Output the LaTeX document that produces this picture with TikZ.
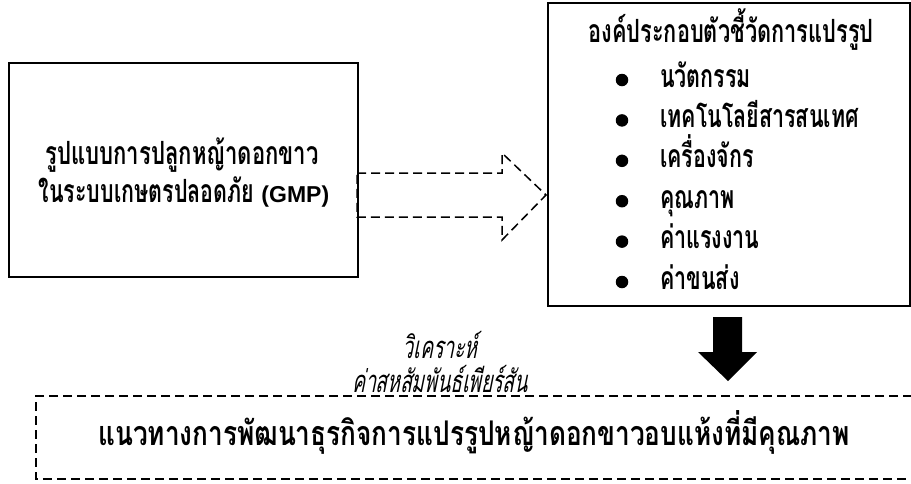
\documentclass[tikz,border=0pt]{standalone}
\usepackage{fontspec}
\usetikzlibrary{calc}
\newfontfamily\thaiL[Script=Thai,FakeStretch=0.69]{Loma}
\newfontfamily\thaiLL[Script=Thai,FakeStretch=0.67]{Loma}
\newfontfamily\thaiT[Script=Thai,FakeStretch=0.68]{Loma}
\newfontfamily\thaiI[Script=Thai,FakeStretch=0.67]{Loma}
\newfontfamily\thaiB[Script=Thai,FakeStretch=0.77]{Loma}
\newfontfamily\thaiit[Script=Thai,FakeStretch=0.62,FakeSlant=0.2]{Loma}
\newfontfamily\arialf{Liberation Sans}
\tikzset{
  box/.style={draw,line width=1.6pt},
  dbox/.style={draw,line width=1.5pt,dash pattern=on 9pt off 5pt},
  ltxt/.style={inner sep=0pt,anchor=base,font=\thaiL\bfseries\fontsize{32}{36}\selectfont},
  ttxt/.style={inner sep=0pt,anchor=base,font=\thaiT\bfseries\fontsize{32}{36}\selectfont},
  itemtxt/.style={inner sep=0pt,anchor=base west,font=\thaiI\bfseries\fontsize{32}{36}\selectfont},
  btxt/.style={inner sep=0pt,anchor=base,font=\thaiB\bfseries\fontsize{34}{38}\selectfont},
  itxt/.style={inner sep=0pt,anchor=base,font=\thaiit\fontsize{31}{34}\selectfont},
  bul/.style={circle,fill=black,inner sep=0pt,minimum size=12.5pt},
}
\begin{document}
\begin{tikzpicture}[x=1pt,y=-1pt]
\useasboundingbox (0,0) rectangle (911,483);
% left box
\node[box,minimum width=349pt,minimum height=214pt,anchor=north west] (left) at (8,62) {};
\node[ltxt] (l1) at (182,164) {รูปแบบการปลูกหญ้าดอกขาว};
\node[ltxt] (l2) at (184,202) {\thaiLL ในระบบเกษตรปลอดภัย {\arialf\bfseries\fontsize{23}{26}\selectfont (GMP)}};
% right box
\node[box,minimum width=362pt,minimum height=303pt,anchor=north west] (right) at (547,2) {};
\node[ttxt] (title) at (731,42) {องค์ประกอบตัวชี้วัดการแปรรูป};
\foreach \i/\t in {0/นวัตกรรม,1/เทคโนโลยีสารสนเทศ,2/เครื่องจักร,3/คุณภาพ,4/ค่าแรงงาน,5/ค่าขนส่ง}{
  \node[bul] (b\i) at (622,{80+40.4*\i}) {};
  \node[itemtxt] (t\i) at (660,{87+40.4*\i}) {\t};
}
% dashed block arrow
\coordinate (a1) at (357,173);
\coordinate (a2) at (502,173);
\coordinate (a3) at (502,153);
\coordinate (a4) at (546,195);
\coordinate (a5) at (502,240);
\coordinate (a6) at (502,217);
\coordinate (a7) at (357,217);
\draw[line width=1.5pt,dash pattern=on 9pt off 5pt,line join=miter] (a1) -- (a2) -- (a3) -- (a4) -- (a5) -- (a6) -- (a7) -- cycle;
% italic label
\node[itxt] (i1) at (440,358) {วิเคราะห์};
\node[itxt] (i2) at (440,392) {ค่าสหสัมพันธ์เพียร์สัน};
% black arrow
\fill (713,317) -- (742,317) -- (742,352) -- (757,352) -- (728,381) -- (698,352) -- (713,352) -- cycle;
% bottom dashed box
\draw[dbox] (912,396) -- (36,396) -- (36,479) -- (912,479);
\node[btxt] (bottom) at (474,445) {แนวทางการพัฒนาธุรกิจการแปรรูปหญ้าดอกขาวอบแห้งที่มีคุณภาพ};
\end{tikzpicture}
\end{document}
